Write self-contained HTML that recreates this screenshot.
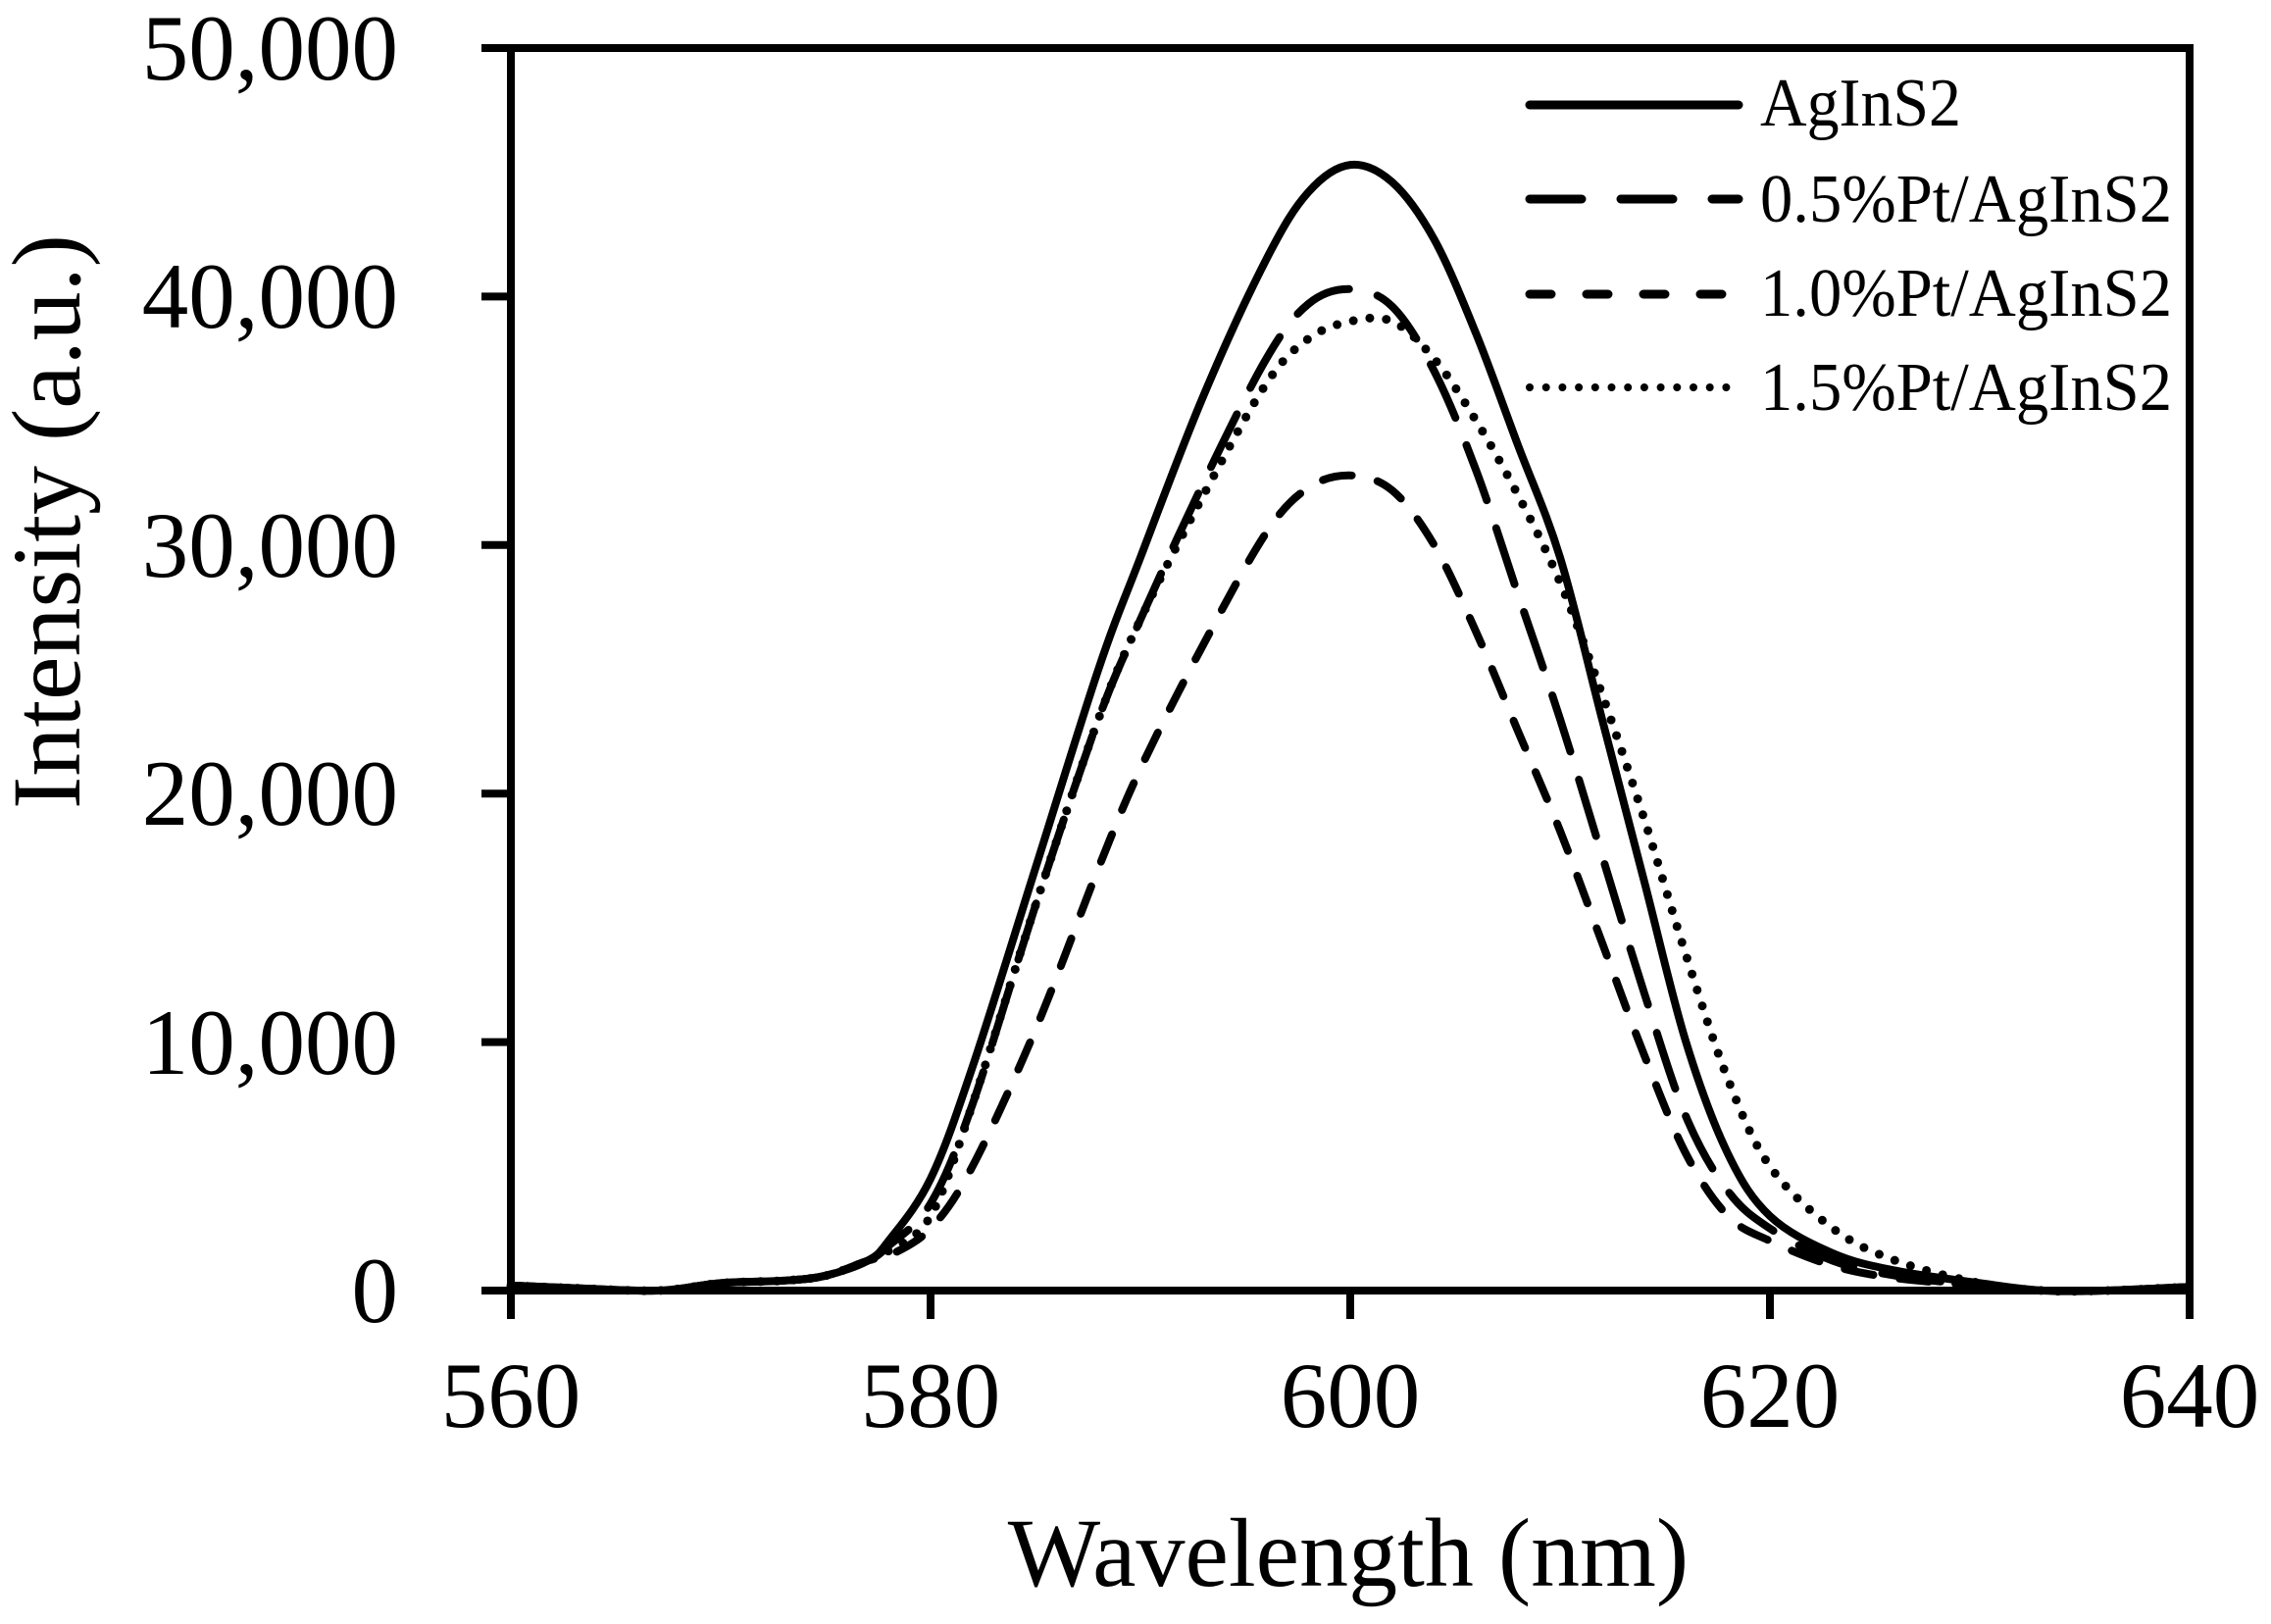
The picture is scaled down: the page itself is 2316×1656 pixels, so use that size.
<!DOCTYPE html>
<html><head><meta charset="utf-8"><style>
html,body{margin:0;padding:0;background:#fff;}
svg{display:block;}
text{font-family:"Liberation Serif","Times New Roman",serif;fill:#000;}
</style></head><body>
<svg id="s" width="2316" height="1656" viewBox="0 0 2316 1656" xmlns="http://www.w3.org/2000/svg">
<rect width="2316" height="1656" fill="#fff"/>
<g id="curves" fill="none" stroke="#000" stroke-width="8" stroke-linejoin="round"></g>
<g stroke="#000" stroke-width="8" fill="none">
<rect x="521" y="49" width="1712" height="1267"/>
<line x1="491" y1="49" x2="521" y2="49"/>
<line x1="491" y1="302.4" x2="521" y2="302.4"/>
<line x1="491" y1="555.8" x2="521" y2="555.8"/>
<line x1="491" y1="809.2" x2="521" y2="809.2"/>
<line x1="491" y1="1062.6" x2="521" y2="1062.6"/>
<line x1="491" y1="1316" x2="521" y2="1316"/>
<line x1="521" y1="1316" x2="521" y2="1345"/>
<line x1="949" y1="1316" x2="949" y2="1345"/>
<line x1="1377" y1="1316" x2="1377" y2="1345"/>
<line x1="1805" y1="1316" x2="1805" y2="1345"/>
<line x1="2233" y1="1316" x2="2233" y2="1345"/>
</g>
<g font-size="95" text-anchor="end">
<text x="406" y="81">50,000</text>
<text x="406" y="334">40,000</text>
<text x="406" y="588">30,000</text>
<text x="406" y="841">20,000</text>
<text x="406" y="1095">10,000</text>
<text x="406" y="1348">0</text>
</g>
<g font-size="95" text-anchor="middle">
<text x="521" y="1455">560</text>
<text x="949" y="1455">580</text>
<text x="1377" y="1455">600</text>
<text x="1805" y="1455">620</text>
<text x="2233" y="1455">640</text>
</g>
<text x="1375" y="1617" font-size="100" text-anchor="middle">Wavelength (nm)</text>
<text transform="translate(81,532) rotate(-90)" font-size="100" text-anchor="middle">Intensity (a.u.)</text>
<g stroke="#000" stroke-width="9" stroke-linecap="round">
<line x1="1560" y1="107" x2="1773" y2="107"/>
<line x1="1560" y1="203" x2="1773" y2="203" stroke-dasharray="53 40"/>
<line x1="1560" y1="300" x2="1766" y2="300" stroke-dasharray="22 36"/>
<line x1="1560" y1="395" x2="1766" y2="395" stroke-width="8" stroke-dasharray="0 16.7"/>
</g>
<g font-size="70">
<text x="1795" y="128" textLength="205" lengthAdjust="spacingAndGlyphs">AgInS2</text>
<text x="1795" y="226" textLength="420" lengthAdjust="spacingAndGlyphs">0.5%Pt/AgInS2</text>
<text x="1795" y="322" textLength="420" lengthAdjust="spacingAndGlyphs">1.0%Pt/AgInS2</text>
<text x="1795" y="418" textLength="420" lengthAdjust="spacingAndGlyphs">1.5%Pt/AgInS2</text>
</g>
</svg>
<script>
var X=function(n){return 521+(n-560)*21.4;},Y=function(v){return 1316-v*0.02534;};
var tail=[[560,200],[563,100],[567,0],[570,300],[573,400],[575,600],[577,1200]];
var end=[[633,0],[636,0],[640,150]];
var S=[
 {d:tail.concat([[578,2000],[580,4500],[582,9000],[585,17000],[588,25000],[590,29500],[593,36000],[596,41500],[598,44200],[600,45300],[602,44600],[604,42300],[606,38500],[608,34000],[610,29500],[612,23000],[614,16500],[616,10000],[618,5500],[620,3000],[623,1500],[626,800],[630,300]]).concat(end),a:""},
 {d:tail.concat([[578,1800],[580,3500],[582,7500],[585,15500],[588,23000],[590,27000],[593,32500],[596,37500],[598,39700],[600,40300],[602,39600],[604,37000],[606,33000],[608,28000],[610,23000],[612,17500],[614,12000],[616,7000],[618,4000],[620,2500],[623,1200],[626,600],[630,200]]).concat(end),a:"60 30"},
 {d:tail.concat([[578,1400],[580,2500],[582,5000],[585,10500],[588,17000],[590,21000],[593,26000],[596,30500],[598,32300],[600,32800],[602,32200],[604,30000],[606,26500],[608,22500],[610,18500],[612,14000],[614,9500],[616,5500],[618,3000],[620,2000],[623,1000],[626,500],[630,200]]).concat(end),a:"30 27"},
 {d:tail.concat([[578,1600],[580,3000],[582,7500],[585,15500],[588,23000],[590,27000],[593,32000],[596,36500],[598,38300],[600,39000],[602,39000],[604,37500],[606,35000],[608,32000],[610,28500],[612,24000],[614,19000],[616,13500],[618,8500],[620,5000],[623,2500],[626,1200],[630,300]]).concat(end),a:"0 17",cap:1}
];
var g=document.getElementById('curves');
S.forEach(function(s){
 var p=s.d.map(function(q){return [X(q[0]),Y(q[1])];});
 var d="M"+p[0][0]+","+p[0][1];
 for(var i=0;i<p.length-1;i++){
  var p0=p[Math.max(0,i-1)],p1=p[i],p2=p[i+1],p3=p[Math.min(p.length-1,i+2)];
  var c1=[p1[0]+(p2[0]-p0[0])/6,p1[1]+(p2[1]-p0[1])/6],c2=[p2[0]-(p3[0]-p1[0])/6,p2[1]-(p3[1]-p1[1])/6];
  d+=" C"+c1[0].toFixed(1)+","+c1[1].toFixed(1)+" "+c2[0].toFixed(1)+","+c2[1].toFixed(1)+" "+p2[0].toFixed(1)+","+p2[1].toFixed(1);
 }
 var e=document.createElementNS("http://www.w3.org/2000/svg","path");
 e.setAttribute("d",d);
 if(s.a)e.setAttribute("stroke-dasharray",s.a);
 if(s.cap){e.setAttribute("stroke-linecap","round");e.setAttribute("stroke-width","9");}
 else if(s.a){e.setAttribute("stroke-linecap","round");}
 g.appendChild(e);
});
</script>
</body></html>
